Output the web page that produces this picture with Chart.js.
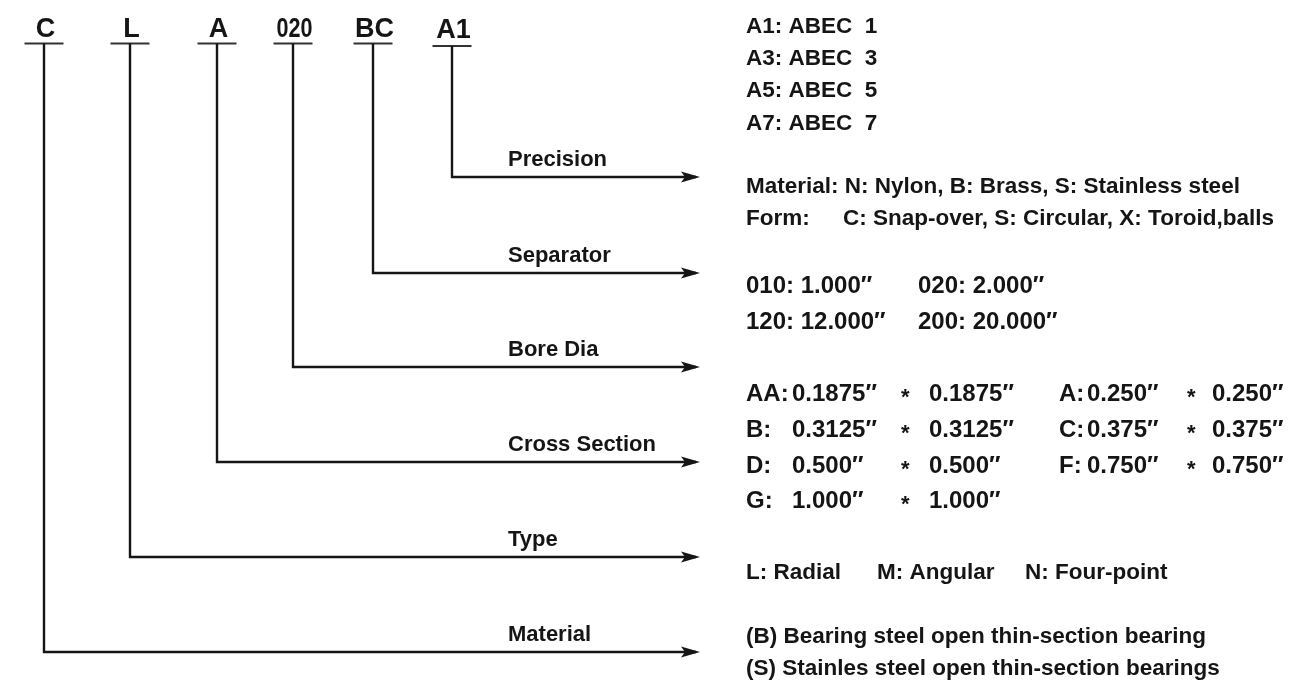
<!DOCTYPE html>
<html>
<head>
<meta charset="utf-8">
<script src="https://cdn.jsdelivr.net/npm/chart.js@4/dist/chart.umd.min.js"></script>
<style>
  html, body { margin: 0; padding: 0; background: #fff; }
  #wrap { width: 1316px; height: 681px; position: relative; }
</style>
</head>
<body>
<div id="wrap"><canvas id="diagram"></canvas></div>
<script>
// part number code, one entry per position
const codes = ['C', 'L', 'A', '020', 'BC', 'A1'];
const fields = ['Material', 'Type', 'Cross Section', 'Bore Dia', 'Separator', 'Precision'];

// what each position can be
const precisionGrades = ['A1: ABEC  1', 'A3: ABEC  3', 'A5: ABEC  5', 'A7: ABEC  7'];
const separatorMaterial = 'Material: N: Nylon, B: Brass, S: Stainless steel';
const separatorForm = ['Form:', 'C: Snap-over, S: Circular, X: Toroid,balls'];
const boreCodes = ['010', '020', '120', '200'];
const boreSizes = ['1.000', '2.000', '12.000', '20.000'];
const crossCodes = ['AA', 'B', 'D', 'G', 'A', 'C', 'F'];
const crossSizes = ['0.1875', '0.3125', '0.500', '1.000', '0.250', '0.375', '0.750'];
const typeCodes = ['L: Radial', 'M: Angular', 'N: Four-point'];
const materialLines = ['(B) Bearing steel open thin-section bearing', '(S) Stainles steel open thin-section bearings'];

// layout (canvas units)
const codeX = [44, 130, 217, 293, 373, 452];
const barY = [43.5, 43.5, 43.5, 43.5, 43.5, 46];
const levelY = [652, 557, 462, 367, 273, 177];
const arrowTip = 700;
const labelX = 508;
const descX = 746;
const FONT = '"Liberation Sans", Arial, sans-serif';
const INK = '#151515';

const connectors = codes.map((c, i) => ({
  data: [
    { x: codeX[i], y: barY[i] },
    { x: codeX[i], y: levelY[i] },
    { x: arrowTip - 4, y: levelY[i] }
  ],
  showLine: true,
  borderColor: INK,
  borderWidth: 2.4,
  pointRadius: 0,
  fill: false,
  tension: 0,
  borderJoinStyle: 'miter'
}));

const bars = codes.map((c, i) => ({
  data: [{ x: codeX[i] - 19.5, y: barY[i] }, { x: codeX[i] + 19.5, y: barY[i] }],
  showLine: true,
  borderColor: '#333',
  borderWidth: 2,
  pointRadius: 0,
  fill: false
}));

const diagramText = {
  id: 'diagramText',
  afterDatasetsDraw(chart) {
    const ctx = chart.ctx;
    const xs = chart.scales.x, ys = chart.scales.y;
    const px = v => xs.getPixelForValue(v);
    const py = v => ys.getPixelForValue(v);

    const text = (str, x, y, size, align, sx) => {
      ctx.save();
      ctx.font = 'bold ' + size + 'px ' + FONT;
      ctx.fillStyle = INK;
      ctx.textAlign = align || 'left';
      ctx.textBaseline = 'alphabetic';
      ctx.translate(px(x), py(y));
      if (sx) ctx.scale(sx, 1);
      ctx.fillText(str, 0, 0);
      ctx.restore();
    };

    // arrow heads
    ctx.save();
    ctx.fillStyle = INK;
    levelY.forEach(y => {
      const tx = px(arrowTip), ty = py(y);
      ctx.beginPath();
      ctx.moveTo(tx, ty);
      ctx.lineTo(tx - 19, ty - 5.5);
      ctx.lineTo(tx - 15, ty);
      ctx.lineTo(tx - 19, ty + 5.5);
      ctx.closePath();
      ctx.fill();
    });
    ctx.restore();

    // code letters
    codes.forEach((c, i) => {
      const base = i === 5 ? 37.5 : 36.5;
      if (c === '020') text(c, codeX[i] + 1.5, base, 27, 'center', 0.8);
      else text(c, codeX[i] + 1.5, base, 27, 'center');
    });

    // field names above arrows
    fields.forEach((f, i) => text(f, labelX, levelY[i] - 11, 22, 'left'));

    // precision
    precisionGrades.forEach((s, i) => text(s, descX, 33 + i * 32.2, 22.5));

    // separator
    text(separatorMaterial, descX, 193, 22.5);
    text(separatorForm[0], descX, 225, 22.5);
    text(separatorForm[1], 843, 225, 22.5);

    // bore dia
    boreCodes.forEach((c, i) => {
      const x = i % 2 === 0 ? descX : 918;
      const y = i < 2 ? 293 : 328.5;
      text(c + ': ' + boreSizes[i] + '\u2033', x, y, 24);
    });

    // cross section
    crossCodes.forEach((c, i) => {
      const left = i < 4;
      const row = left ? i : i - 4;
      const y = 401 + row * 35.8;
      if (left) {
        text(c + ':', descX, y, 24);
        text(crossSizes[i] + '\u2033', 792, y, 24);
        text('*', 901, y + 3, 22);
        text(crossSizes[i] + '\u2033', 929, y, 24);
      } else {
        text(c + ':', 1059, y, 24);
        text(crossSizes[i] + '\u2033', 1087, y, 24);
        text('*', 1187, y + 3, 22);
        text(crossSizes[i] + '\u2033', 1212, y, 24);
      }
    });

    // type
    const typeX = [descX, 877, 1025];
    typeCodes.forEach((s, i) => text(s, typeX[i], 578.5, 22.5));

    // material
    materialLines.forEach((s, i) => text(s, descX, 643 + i * 32, 22.5));
  }
};

new Chart(document.getElementById('diagram'), {
  type: 'scatter',
  data: { datasets: connectors.concat(bars) },
  options: {
    responsive: true,
    maintainAspectRatio: false,
    animation: false,
    layout: { padding: 0 },
    plugins: { legend: { display: false }, tooltip: { enabled: false } },
    scales: {
      x: { type: 'linear', min: 0, max: 1316, display: false },
      y: { type: 'linear', min: 0, max: 681, reverse: true, display: false }
    }
  },
  plugins: [diagramText]
});
</script>
</body>
</html>
